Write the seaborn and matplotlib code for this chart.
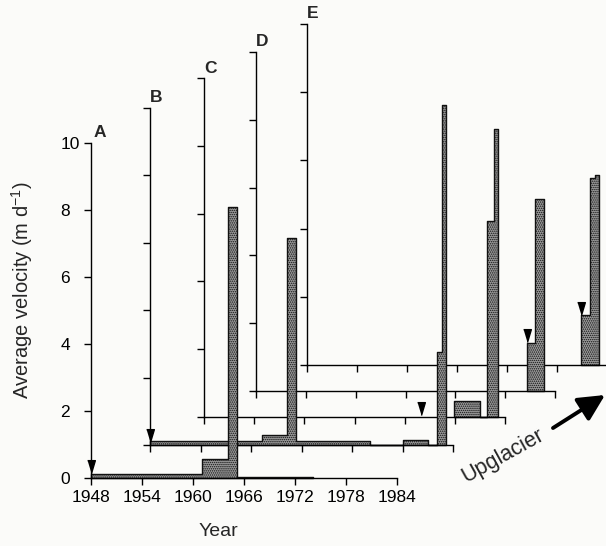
import matplotlib
matplotlib.use("Agg")
import matplotlib.pyplot as plt
import seaborn as sns

# velocity records A-E (step edges in years, velocity in m/d between edges)
panels = ["A", "B", "C", "D", "E"]

years_a = [1948, 1961.1, 1964.1, 1965.2, 1974.1]
vel_a = [0.12, 0.57, 8.1, 0.04]

years_b = [1948, 1961.25, 1964.3, 1965.35, 1974.1, 1978.05, 1981.0, 1982.05, 1982.65, 1983.17]
vel_b = [0.12, 0.3, 6.15, 0.12, 0, 0.15, 0, 2.77, 10.09]

years_c = [1977.9, 1981.0, 1981.84, 1982.65, 1983.17]
vel_c = [0.47, 0, 5.78, 8.5]

years_d = [1980.6, 1981.6, 1982.7]
vel_d = [1.41, 5.66]

years_e = [1980.9, 1981.9, 1982.56, 1983.04]
vel_e = [1.47, 5.47, 5.57]

# arrowheads: year and velocity at the tip
arrow_years = [1948, 1948, 1973.9, 1980.6, 1980.85]
arrow_vel = [0.15, 0.1, 0.05, 1.45, 1.47]

year_ticks = list(range(1948, 1985, 6))
vel_ticks = list(range(0, 11, 2))

series = [(years_a, vel_a), (years_b, vel_b), (years_c, vel_c),
          (years_d, vel_d), (years_e, vel_e)]

# layout of the staggered axes (pixels in a 606x546 picture)
W, H = 606, 546
origin_px = [(91, 478), (150, 445), (204, 416.5), (256, 391), (307, 365)]
width_px = [306, 303, 301, 299, 300]
height_px = [335, 337, 338, 339, 341]
letter_dx = [2, 0, 0, 0, 0]

sns.set_style("ticks")
plt.rcParams["font.family"] = ["Liberation Sans", "DejaVu Sans"]
plt.rcParams["mathtext.fontset"] = "custom"
plt.rcParams["mathtext.rm"] = "Liberation Sans"
plt.rcParams["hatch.linewidth"] = 0.7

bg = "#fbfbf9"
fig = plt.figure(figsize=(W / 100, H / 100), dpi=100, facecolor=bg)

# little downward triangle whose tip sits on the data point
tri = [(-0.3, 1.0), (0.3, 1.0), (0.0, 0.0)]

for i, name in enumerate(panels):
    x0, y0 = origin_px[i]
    ax = fig.add_axes([x0 / W, (H - y0) / H, width_px[i] / W, height_px[i] / H])
    ax.set_zorder(10 - i)
    ax.patch.set_visible(False)
    ax.set_xlim(1948, 1984)
    ax.set_ylim(0, 10)
    sns.despine(ax=ax)
    for s in ["left", "bottom"]:
        ax.spines[s].set_color("black")
        ax.spines[s].set_linewidth(1.0)

    ax.set_xticks(year_ticks)
    ax.set_yticks(vel_ticks)
    ax.tick_params(direction="out", length=5, width=1.0, colors="black", labelsize=12.5)
    ax.tick_params(axis="x", pad=4)
    ax.tick_params(axis="y", pad=17)
    if i == 0:
        for lab in ax.get_yticklabels():
            lab.set_ha("left")
    else:
        ax.tick_params(labelleft=False, labelbottom=False)

    yrs, vel = series[i]
    ax.fill_between(yrs, vel + [vel[-1]], 0, step="post", facecolor="#9c9c9c",
                    edgecolor="#111111", linewidth=1.0, hatch="........", clip_on=False)

    ax.plot([arrow_years[i]], [arrow_vel[i]], linestyle="none", marker=tri,
            markersize=18.5, color="black", clip_on=False)

    ax.annotate(name, xy=(1948, 10), xytext=(letter_dx[i], 4), textcoords="offset points",
                fontsize=12.5, fontweight="bold", ha="left", va="baseline",
                annotation_clip=False)

fig.text(22 / W, 1 - 290 / H, r"Average velocity (m d$^{-1}$)", rotation=90,
         ha="center", va="center", fontsize=14.5)
fig.text(218 / W, 1 - 531 / H, "Year", ha="center", va="center", fontsize=14)

fig.text(503 / W, 1 - 456 / H, "Upglacier", rotation=29, ha="center", va="center",
         fontsize=15.5)

# overlay in pixel space for the direction arrow
arr = fig.add_axes([0, 0, 1, 1], zorder=20)
arr.set_axis_off()
arr.set_xlim(0, W)
arr.set_ylim(H, 0)
arr.annotate("", xy=(605, 395), xytext=(553, 428),
             arrowprops=dict(arrowstyle="-|>,head_length=1.0,head_width=0.5",
                             lw=2.8, color="black", mutation_scale=16,
                             shrinkA=0, shrinkB=0))

fig.savefig("out.png", dpi=100, facecolor=bg)
